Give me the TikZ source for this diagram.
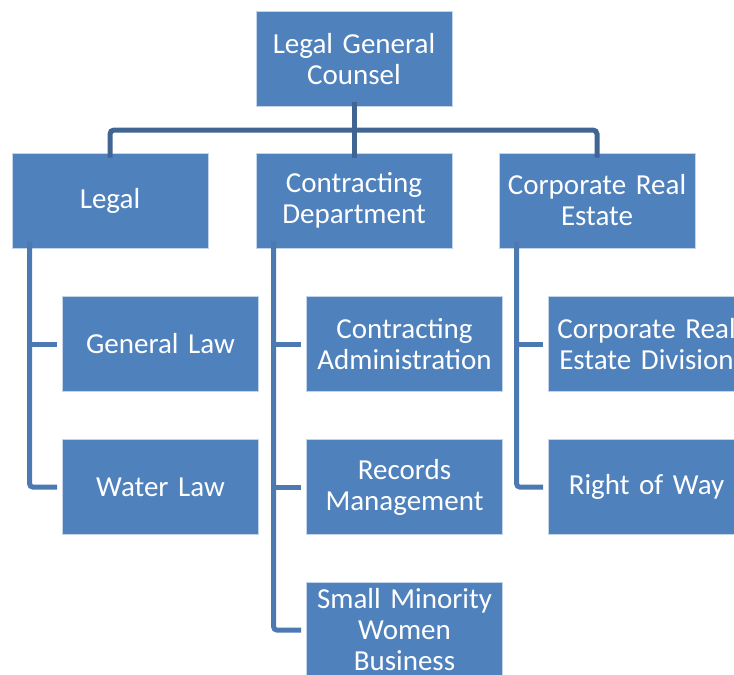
\documentclass[tikz,border=0pt]{standalone}
\usepackage{fontspec}
\setmainfont{Carlito}
\usetikzlibrary{positioning}
\definecolor{boxblue}{RGB}{79,129,189}
\definecolor{boxedge}{RGB}{196,212,234}
\definecolor{barblue}{RGB}{64,101,146}
\definecolor{subblue}{RGB}{76,121,178}
\tikzset{
  unit/.style={rectangle, draw=boxedge, fill=boxblue, text=white,
    minimum width=196pt, minimum height=95pt, text width=190pt,
    align=center, inner sep=0pt, line width=0.6pt,
    font=\fontsize{29}{31}\selectfont},
  topline/.style={line width=5pt, color=barblue, rounded corners=4pt},
  subline/.style={line width=5pt, color=subblue, rounded corners=3pt}
}
\begin{document}
\begin{tikzpicture}[x=1pt, y=-1pt]
\useasboundingbox (0,0) rectangle (734,675);
\clip (0,0) rectangle (734,675);
% head
\node[unit] (gc) at (354,59) {Legal General\\Counsel};
% departments
\node[unit] (legal) at (110,200.5) {Legal};
\node[unit] (cd) at (354,200.5) {Contracting\\Department};
\node[unit] (cre) at (597,200.5) {Corporate Real\\Estate};
% sections
\node[unit] (gl) at (160.5,344) {General Law};
\node[unit] (wl) at (160.5,487) {Water Law};
\node[unit] (ca) at (404.5,344) {Contracting\\Administration};
\node[unit] (rm) at (404.5,487) {Records\\Management};
\node[unit] (smwb) at (404.5,630) {Small Minority\\Women\\Business};
\node[unit] (cred) at (646.5,344) {Corporate Real\\Estate Division};
\node[unit] (row) at (646.5,487) {Right of Way};
% head to departments
\coordinate (bar) at (354,130);
\draw[topline] ([yshift=5pt]gc.south) -- ([yshift=-5pt]cd.north);
\draw[topline] ([yshift=-5pt]legal.north) |- (bar) -| ([yshift=-5pt]cre.north);
% departments to sections
\coordinate (lx) at ([shift={(18pt,7pt)}]legal.south west);
\coordinate (cx) at ([shift={(18pt,7pt)}]cd.south west);
\coordinate (rx) at ([shift={(18pt,7pt)}]cre.south west);
\draw[subline] (lx) |- ([xshift=-5pt]wl.west);
\draw[subline] (lx |- gl.west) -- ([xshift=-5pt]gl.west);
\draw[subline] (cx) |- ([xshift=-5pt]smwb.west);
\draw[subline] (cx |- ca.west) -- ([xshift=-5pt]ca.west);
\draw[subline] (cx |- rm.west) -- ([xshift=-5pt]rm.west);
\draw[subline] (rx) |- ([xshift=-5pt]row.west);
\draw[subline] (rx |- cred.west) -- ([xshift=-5pt]cred.west);
\end{tikzpicture}
\end{document}
